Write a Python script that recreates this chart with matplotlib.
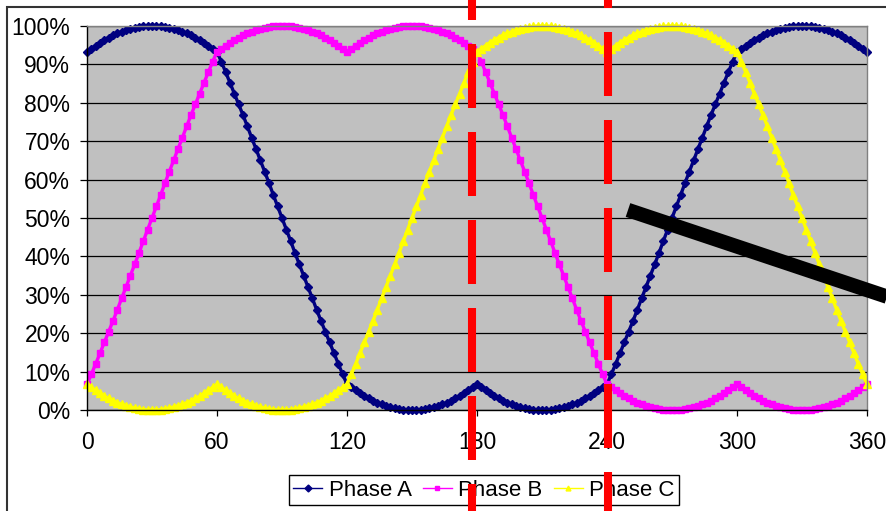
import matplotlib
matplotlib.use('Agg')
import numpy as np
from matplotlib import pyplot as plt
from matplotlib.lines import Line2D
from matplotlib.patches import Rectangle
from matplotlib.ticker import PercentFormatter
from matplotlib.transforms import blended_transform_factory

plt.rcParams['font.family'] = ['Liberation Sans', 'DejaVu Sans']
plt.rcParams['lines.scale_dashes'] = False

# angle in degrees, one sample every 2 degrees
angle = np.arange(0, 361, 2)

# duty (%)
phase_a = [93.3, 94.1, 94.9, 95.7, 96.4, 97.0, 97.6, 98.1, 98.5, 98.9, 99.2, 99.5, 99.7, 99.9, 100.0,
           100.0, 100.0, 99.9, 99.7, 99.5, 99.2, 98.9, 98.5, 98.1, 97.6, 97.0, 96.4, 95.7, 94.9, 94.1,
           93.3, 90.7, 88.0, 85.2, 82.4, 79.6, 76.8, 73.9, 70.9, 68.0, 65.0, 62.1, 59.1, 56.0, 53.0,
           50.0, 47.0, 44.0, 40.9, 37.9, 35.0, 32.0, 29.1, 26.1, 23.2, 20.4, 17.6, 14.8, 12.0, 9.3,
           6.7, 5.9, 5.1, 4.3, 3.6, 3.0, 2.4, 1.9, 1.5, 1.1, 0.8, 0.5, 0.3, 0.1, 0.0,
           0.0, 0.0, 0.1, 0.3, 0.5, 0.8, 1.1, 1.5, 1.9, 2.4, 3.0, 3.6, 4.3, 5.1, 5.9,
           6.7, 5.9, 5.1, 4.3, 3.6, 3.0, 2.4, 1.9, 1.5, 1.1, 0.8, 0.5, 0.3, 0.1, 0.0,
           0.0, 0.0, 0.1, 0.3, 0.5, 0.8, 1.1, 1.5, 1.9, 2.4, 3.0, 3.6, 4.3, 5.1, 5.9,
           6.7, 9.3, 12.0, 14.8, 17.6, 20.4, 23.2, 26.1, 29.1, 32.0, 35.0, 37.9, 40.9, 44.0, 47.0,
           50.0, 53.0, 56.0, 59.1, 62.1, 65.0, 68.0, 70.9, 73.9, 76.8, 79.6, 82.4, 85.2, 88.0, 90.7,
           93.3, 94.1, 94.9, 95.7, 96.4, 97.0, 97.6, 98.1, 98.5, 98.9, 99.2, 99.5, 99.7, 99.9, 100.0,
           100.0, 100.0, 99.9, 99.7, 99.5, 99.2, 98.9, 98.5, 98.1, 97.6, 97.0, 96.4, 95.7, 94.9, 94.1,
           93.3]

phase_b = [6.7, 9.3, 12.0, 14.8, 17.6, 20.4, 23.2, 26.1, 29.1, 32.0, 35.0, 37.9, 40.9, 44.0, 47.0,
           50.0, 53.0, 56.0, 59.1, 62.1, 65.0, 68.0, 70.9, 73.9, 76.8, 79.6, 82.4, 85.2, 88.0, 90.7,
           93.3, 94.1, 94.9, 95.7, 96.4, 97.0, 97.6, 98.1, 98.5, 98.9, 99.2, 99.5, 99.7, 99.9, 100.0,
           100.0, 100.0, 99.9, 99.7, 99.5, 99.2, 98.9, 98.5, 98.1, 97.6, 97.0, 96.4, 95.7, 94.9, 94.1,
           93.3, 94.1, 94.9, 95.7, 96.4, 97.0, 97.6, 98.1, 98.5, 98.9, 99.2, 99.5, 99.7, 99.9, 100.0,
           100.0, 100.0, 99.9, 99.7, 99.5, 99.2, 98.9, 98.5, 98.1, 97.6, 97.0, 96.4, 95.7, 94.9, 94.1,
           93.3, 90.7, 88.0, 85.2, 82.4, 79.6, 76.8, 73.9, 70.9, 68.0, 65.0, 62.1, 59.1, 56.0, 53.0,
           50.0, 47.0, 44.0, 40.9, 37.9, 35.0, 32.0, 29.1, 26.1, 23.2, 20.4, 17.6, 14.8, 12.0, 9.3,
           6.7, 5.9, 5.1, 4.3, 3.6, 3.0, 2.4, 1.9, 1.5, 1.1, 0.8, 0.5, 0.3, 0.1, 0.0,
           0.0, 0.0, 0.1, 0.3, 0.5, 0.8, 1.1, 1.5, 1.9, 2.4, 3.0, 3.6, 4.3, 5.1, 5.9,
           6.7, 5.9, 5.1, 4.3, 3.6, 3.0, 2.4, 1.9, 1.5, 1.1, 0.8, 0.5, 0.3, 0.1, 0.0,
           0.0, 0.0, 0.1, 0.3, 0.5, 0.8, 1.1, 1.5, 1.9, 2.4, 3.0, 3.6, 4.3, 5.1, 5.9,
           6.7]

phase_c = [6.7, 5.9, 5.1, 4.3, 3.6, 3.0, 2.4, 1.9, 1.5, 1.1, 0.8, 0.5, 0.3, 0.1, 0.0,
           0.0, 0.0, 0.1, 0.3, 0.5, 0.8, 1.1, 1.5, 1.9, 2.4, 3.0, 3.6, 4.3, 5.1, 5.9,
           6.7, 5.9, 5.1, 4.3, 3.6, 3.0, 2.4, 1.9, 1.5, 1.1, 0.8, 0.5, 0.3, 0.1, 0.0,
           0.0, 0.0, 0.1, 0.3, 0.5, 0.8, 1.1, 1.5, 1.9, 2.4, 3.0, 3.6, 4.3, 5.1, 5.9,
           6.7, 9.3, 12.0, 14.8, 17.6, 20.4, 23.2, 26.1, 29.1, 32.0, 35.0, 37.9, 40.9, 44.0, 47.0,
           50.0, 53.0, 56.0, 59.1, 62.1, 65.0, 68.0, 70.9, 73.9, 76.8, 79.6, 82.4, 85.2, 88.0, 90.7,
           93.3, 94.1, 94.9, 95.7, 96.4, 97.0, 97.6, 98.1, 98.5, 98.9, 99.2, 99.5, 99.7, 99.9, 100.0,
           100.0, 100.0, 99.9, 99.7, 99.5, 99.2, 98.9, 98.5, 98.1, 97.6, 97.0, 96.4, 95.7, 94.9, 94.1,
           93.3, 94.1, 94.9, 95.7, 96.4, 97.0, 97.6, 98.1, 98.5, 98.9, 99.2, 99.5, 99.7, 99.9, 100.0,
           100.0, 100.0, 99.9, 99.7, 99.5, 99.2, 98.9, 98.5, 98.1, 97.6, 97.0, 96.4, 95.7, 94.9, 94.1,
           93.3, 90.7, 88.0, 85.2, 82.4, 79.6, 76.8, 73.9, 70.9, 68.0, 65.0, 62.1, 59.1, 56.0, 53.0,
           50.0, 47.0, 44.0, 40.9, 37.9, 35.0, 32.0, 29.1, 26.1, 23.2, 20.4, 17.6, 14.8, 12.0, 9.3,
           6.7]

x_ticks = [0, 60, 120, 180, 240, 300, 360]
y_ticks = [0, 10, 20, 30, 40, 50, 60, 70, 80, 90, 100]
names = ['Phase A', 'Phase B', 'Phase C']
colors = ['#000080', '#FF00FF', '#FFFF00']
markers = ['D', 's', '^']
msizes = [4.2, 4.2, 5.2]

# dashed red markers drawn over the picture (at these angles)
red_marks = [177.5, 240.3]
red_offsets = [44, 56]  # px into dash pattern at top edge

W, H = 886, 511
fig = plt.figure(figsize=(W / 100, H / 100), dpi=100)
fig.patch.set_facecolor('white')

# outer chart border (only top and left are visible)
fig.add_artist(Rectangle((6.5 / W, -0.5), 2, 1.5 - 7.5 / H, transform=fig.transFigure,
                         fill=False, edgecolor='#333333', lw=1.5))

ax = fig.add_axes([87 / W, 1 - 410 / H, 780 / W, 384 / H])
ax.set_facecolor('#C0C0C0')

series = [phase_a, phase_b, phase_c]
for vals, name, c, m, ms in zip(series, names, colors, markers, msizes):
    ax.plot(angle, vals, color=c, lw=2.4, marker=m, ms=ms, mec=c, mfc=c,
            label=name, clip_on=False)

ax.set_xlim(0, 360)
ax.set_ylim(0, 100)
ax.set_xticks(x_ticks)
ax.set_yticks(y_ticks)
ax.yaxis.set_major_formatter(PercentFormatter(decimals=0))
ax.grid(axis='y', color='black', lw=0.9)
ax.set_axisbelow(True)
ax.tick_params(axis='y', length=5, width=0.9, pad=7, labelsize=16.5)
ax.tick_params(axis='x', length=4, width=0.9, pad=11, labelsize=16.5)
for s in ['left', 'bottom']:
    ax.spines[s].set_color('black')
    ax.spines[s].set_linewidth(1.0)
for s in ['top', 'right']:
    ax.spines[s].set_color('#808080')
    ax.spines[s].set_linewidth(1.0)

leg = ax.legend(loc='center', bbox_to_anchor=(484 / W, 1 - 490 / H),
                bbox_transform=fig.transFigure, ncol=3, fontsize=16,
                frameon=True, fancybox=False, edgecolor='black', framealpha=1,
                handlelength=1.3, handletextpad=0.3, columnspacing=0.5,
                borderpad=0.2, borderaxespad=0, numpoints=1)
leg.get_frame().set_linewidth(1.0)
for h in leg.legend_handles:
    h.set_linewidth(1.0)
    h.set_markersize(3.5)

# red dashed overlay lines, full height of the picture
tr = blended_transform_factory(ax.transData, fig.transFigure)
for xm, off in zip(red_marks, red_offsets):
    fig.add_artist(Line2D([xm, xm], [1, 0], transform=tr, color='#FF0000', lw=5.8,
                          linestyle=(off * 0.72, (64 * 0.72, 24 * 0.72)),
                          solid_capstyle='butt', dash_capstyle='butt', zorder=20))

# thick black stroke
fig.add_artist(Line2D([628 / W, 900 / W], [1 - 210 / H, 1 - 301 / H],
                      transform=fig.transFigure, color='black', lw=10.4,
                      solid_capstyle='butt', zorder=21))

fig.savefig('out.png', dpi=100)
